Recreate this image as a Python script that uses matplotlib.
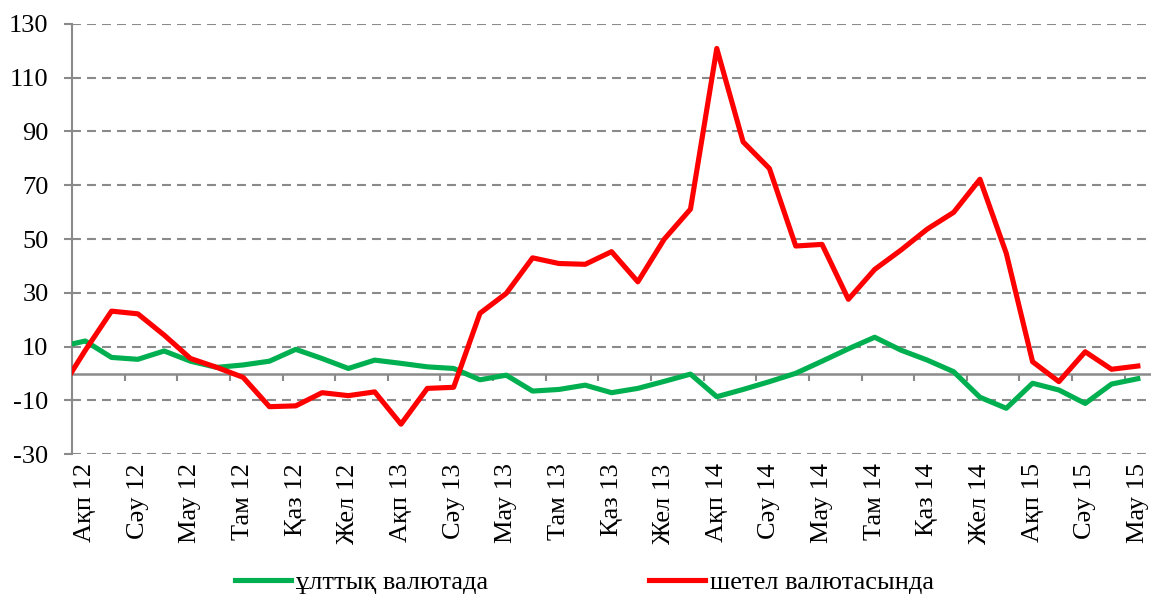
import matplotlib.pyplot as plt

plt.rcParams['font.family'] = ['Liberation Serif', 'DejaVu Serif']
plt.rcParams['axes.unicode_minus'] = False

# Axis labels, every second month from Feb 2012 to Jun 2015
tick_labels = ['Ақп 12', 'Сәу 12', 'Мау 12', 'Там 12', 'Қаз 12', 'Жел 12',
               'Ақп 13', 'Сәу 13', 'Мау 13', 'Там 13', 'Қаз 13', 'Жел 13',
               'Ақп 14', 'Сәу 14', 'Мау 14', 'Там 14', 'Қаз 14', 'Жел 14',
               'Ақп 15', 'Сәу 15', 'Мау 15']

series_names = ['ұлттық валютада', 'шетел валютасында']

# Monthly values Jan 2012 - Jun 2015 (Jan 2012 is cut off by the left edge)
national = [9.9, 12.1, 6.0, 5.3, 8.4, 4.6, 2.3, 3.2, 4.6, 9.0, 5.6, 1.9,
            5.0, 3.8, 2.5, 1.9, -2.3, -0.6, -6.5, -5.9, -4.3, -7.1, -5.5,
            -2.9, -0.2, -8.6, -5.9, -3.0, 0.1, 4.6, 9.2, 13.5, 8.7, 5.0,
            0.7, -8.8, -12.9, -3.6, -6.1, -11.1, -3.9, -1.9]
foreign = [-7.0, 8.6, 23.2, 22.2, 14.3, 5.6, 2.3, -1.4, -12.3, -12.0, -7.1,
           -8.2, -6.8, -18.8, -5.5, -5.1, 22.4, 29.8, 43.0, 40.9, 40.6, 45.3,
           34.1, 49.9, 61.1, 120.8, 86.1, 76.2, 47.4, 48.0, 27.6, 38.7, 45.9,
           53.7, 59.9, 72.2, 44.7, 4.4, -3.0, 8.1, 1.6, 2.8]

x = list(range(-1, len(national) - 1))
n_shown = len(national) - 1
ymin, ymax = -30, 130
grey = '#8a8a8a'
fsize = 19

fig = plt.figure(figsize=(11.51, 5.97), dpi=100)
ax = fig.add_axes([0.0626, 0.239, 0.9374, 0.7213])

l1, = ax.plot(x, national, color='#00b050', linewidth=3.7, zorder=3,
              solid_joinstyle='round', label=series_names[0])
l2, = ax.plot(x, foreign, color='#ff0000', linewidth=3.7, zorder=4,
              solid_joinstyle='round', label=series_names[1])

ax.set_xlim(-0.5, n_shown - 0.5)
ax.set_ylim(ymin, ymax)

# y axis with dashed grid
ax.set_yticks(range(ymin, ymax + 1, 20))
ax.yaxis.grid(True, color=grey, linestyle=(0, (4.3, 2.9)), linewidth=1.5)
ax.set_axisbelow(True)
ax.tick_params(axis='y', direction='out', length=6, width=1.5, color=grey,
               labelsize=fsize, pad=11)
for side in ['top', 'right', 'bottom']:
    ax.spines[side].set_visible(False)
ax.spines['left'].set_color(grey)
ax.spines['left'].set_linewidth(1.5)

# month labels under the plot
ax.set_xticks(range(0, n_shown, 2))
ax.set_xticklabels(tick_labels, rotation=90)
ax.tick_params(axis='x', length=0, labelsize=fsize, pad=6.5)

# category axis drawn along the zero line
zero_axis = ax.secondary_xaxis((0 - ymin) / (ymax - ymin))
zero_axis.set_xticks([b - 0.5 for b in range(2, n_shown, 2)])
zero_axis.set_xticklabels([])
zero_axis.tick_params(direction='out', length=5, width=1.5, color=grey)
zero_axis.spines['bottom'].set_color(grey)
zero_axis.spines['bottom'].set_linewidth(1.8)

fig.legend(handles=[l1, l2], loc='center', bbox_to_anchor=(0.508, 0.024),
           ncol=2, frameon=False, fontsize=fsize, handlelength=2.1,
           handletextpad=0.2, columnspacing=6.1)

plt.savefig('out.png', dpi=100)
